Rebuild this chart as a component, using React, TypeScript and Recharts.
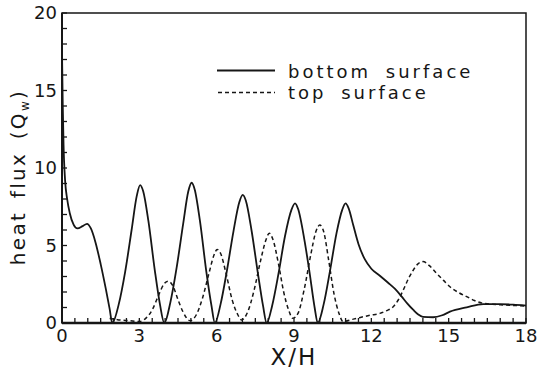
import React from "react";
import {
  LineChart,
  Line,
  XAxis,
  YAxis,
  Legend,
  Label,
  ReferenceArea,
} from "recharts";

// heat flux along the channel
const bottomX = [
  0, 0.03, 0.06, 0.12, 0.2, 0.3, 0.45, 0.6, 0.8, 0.97, 1.12, 1.3, 1.5, 1.7, 1.85, 1.95,
  2.2, 2.45, 2.7, 2.9, 3.03, 3.15, 3.35, 3.6, 3.8, 3.97,
  4.2, 4.45, 4.7, 4.9, 5.03, 5.15, 5.35, 5.6, 5.8, 5.93,
  6.15, 6.4, 6.65, 6.88, 7.01, 7.13, 7.35, 7.6, 7.8, 7.94,
  8.15, 8.4, 8.65, 8.9, 9.04, 9.16, 9.4, 9.6, 9.8, 9.92,
  10.15, 10.4, 10.65, 10.87, 11.0, 11.12, 11.3, 11.5, 11.75, 12.0, 12.33, 12.65, 12.92,
  13.18, 13.4, 13.63, 13.82, 14.0, 14.4, 14.75, 15.05, 15.7, 16.34, 17.0, 17.5, 18,
];
const bottomY = [
  17.5, 14, 11.5, 9.2, 8.0, 7.1, 6.35, 6.1, 6.25, 6.4, 6.1, 5.2, 3.8, 2.2, 0.9, 0,
  1.2, 3.3, 6.0, 8.2, 8.9, 8.5, 6.6, 3.4, 1.2, 0,
  1.3, 3.6, 6.4, 8.5, 9.05, 8.6, 6.6, 3.3, 1.1, 0,
  1.2, 3.4, 5.9, 7.8, 8.26, 7.9, 6.0, 3.2, 1.1, 0,
  1.1, 3.2, 5.6, 7.3, 7.72, 7.35, 5.4, 3.3, 1.0, 0,
  1.2, 3.4, 5.8, 7.3, 7.72, 7.4, 6.3, 5.1, 4.1, 3.5, 3.05, 2.6, 2.2,
  1.7, 1.25, 0.84, 0.55, 0.4, 0.37, 0.5, 0.73, 1.01, 1.22, 1.22, 1.18, 1.12,
];

const topX = [
  1.85, 2.2, 2.6, 3.0, 3.25, 3.5, 3.75, 3.95, 4.12, 4.3, 4.5, 4.7, 4.97,
  5.2, 5.45, 5.7, 5.9, 6.02, 6.15, 6.35, 6.6, 6.8, 6.97,
  7.2, 7.45, 7.7, 7.9, 8.04, 8.18, 8.4, 8.6, 8.8, 8.95,
  9.15, 9.4, 9.65, 9.85, 10.0, 10.15, 10.35, 10.55, 10.75, 10.9,
  11.3, 11.95, 12.33, 12.6, 12.85, 13.05, 13.24, 13.45, 13.63, 13.8, 14.0,
  14.25, 14.53, 14.8, 15.05, 15.4, 15.7, 16.0, 16.34, 17, 18,
];
const topY = [
  0.3, 0.2, 0.15, 0.1, 0.3, 0.85, 1.8, 2.5, 2.7, 2.4, 1.5, 0.7, 0.15,
  0.5, 1.6, 3.2, 4.4, 4.75, 4.5, 3.3, 1.5, 0.6, 0.2,
  0.7, 2.1, 4.0, 5.3, 5.79, 5.4, 3.8, 2.0, 0.8, 0.3,
  0.6, 2.2, 4.4, 5.9, 6.32, 5.9, 4.0, 1.9, 0.6, 0.1,
  0.25, 0.5, 0.62, 0.8, 1.05, 1.5, 2.13, 2.9, 3.42, 3.8, 3.96,
  3.7, 3.2, 2.75, 2.34, 1.95, 1.7, 1.45, 1.27, 1.18, 1.1,
];

const xLabels = [0, 3, 6, 9, 12, 15, 18];
const yLabels = [0, 5, 10, 15, 20];
const xTicks = Array.from({ length: 37 }, (_, i) => i * 0.5);
const yTicks = Array.from({ length: 21 }, (_, i) => i);

const bottomData = bottomX.map((x, i) => ({ x, q: bottomY[i] }));
const topData = topX.map((x, i) => ({ x, q: topY[i] }));

const ink = "#161616";
const font = "'DejaVu Sans', sans-serif";

function LegendBox() {
  return (
    <svg width={280} height={50} style={{ display: "block" }}>
      <line x1={5} x2={63} y1={12.5} y2={12.5} stroke={ink} strokeWidth={1.8} />
      <line x1={6} x2={63} y1={34.5} y2={34.5} stroke={ink} strokeWidth={1.5} strokeDasharray="4 3" />
      <text x={76} y={20} fontFamily={font} fontSize={18} letterSpacing={3} wordSpacing={6} fill={ink}>
        bottom surface
      </text>
      <text x={76} y={41} fontFamily={font} fontSize={18} letterSpacing={3} wordSpacing={6} fill={ink}>
        top surface
      </text>
    </svg>
  );
}

function XTitle(props: any) {
  const vb = props.viewBox;
  return (
    <text
      x={vb.x + vb.width / 2}
      y={vb.y + 42}
      textAnchor="middle"
      fontFamily={font}
      fontSize={23}
      letterSpacing={2}
      fill={ink}
    >
      X/H
    </text>
  );
}

function YTitle() {
  const x = 25;
  const y = 177;
  return (
    <text
      x={x}
      y={y}
      transform={`rotate(-90, ${x}, ${y})`}
      textAnchor="middle"
      fontFamily={font}
      fontSize={20}
      letterSpacing={2.3}
      wordSpacing={4}
      fill={ink}
    >
      heat flux (Q
      <tspan fontSize={12} dy={4}>w</tspan>
      <tspan dy={-4}>)</tspan>
    </text>
  );
}

export default function App() {
  return (
    <div style={{ position: "absolute", left: 0, top: 0, background: "#fff" }}>
      <LineChart width={537} height={369} margin={{ top: 13, right: 11, left: 0, bottom: 0 }}>
        <XAxis
          type="number"
          dataKey="x"
          domain={[0, 18]}
          ticks={xTicks}
          interval={0}
          allowDataOverflow
          height={46}
          tickSize={-5}
          tickMargin={11}
          tickFormatter={(v) => (xLabels.includes(v) ? String(v) : "")}
          tick={{ fontSize: 18, fontFamily: font, fill: ink }}
          axisLine={{ stroke: ink, strokeWidth: 2.5 }}
          tickLine={{ stroke: ink, strokeWidth: 1.3 }}
        >
          <Label content={XTitle} />
        </XAxis>
        <YAxis
          type="number"
          domain={[0, 20]}
          ticks={yTicks}
          interval={0}
          allowDataOverflow
          width={62}
          tickSize={-5}
          tickMargin={10}
          tickFormatter={(v) => (yLabels.includes(v) ? String(v) : "")}
          tick={{ fontSize: 18, fontFamily: font, fill: ink }}
          axisLine={{ stroke: ink, strokeWidth: 2 }}
          tickLine={{ stroke: ink, strokeWidth: 1.3 }}
        >
          <Label content={YTitle} />
        </YAxis>
        <ReferenceArea x1={0} x2={18} y1={0} y2={20} stroke={ink} strokeWidth={1.5} fill="none" fillOpacity={0} />
        <Line
          data={bottomData}
          dataKey="q"
          type="monotone"
          stroke={ink}
          strokeWidth={1.8}
          dot={false}
          activeDot={false}
          isAnimationActive={false}
        />
        <Line
          data={topData}
          dataKey="q"
          type="monotone"
          stroke={ink}
          strokeWidth={1.5}
          strokeDasharray="4 3"
          dot={false}
          activeDot={false}
          isAnimationActive={false}
        />
        <Legend
          layout="vertical"
          align="center"
          verticalAlign="middle"
          content={() => <LegendBox />}
          wrapperStyle={{ left: 212, top: 58, width: 280 }}
        />
      </LineChart>
    </div>
  );
}
